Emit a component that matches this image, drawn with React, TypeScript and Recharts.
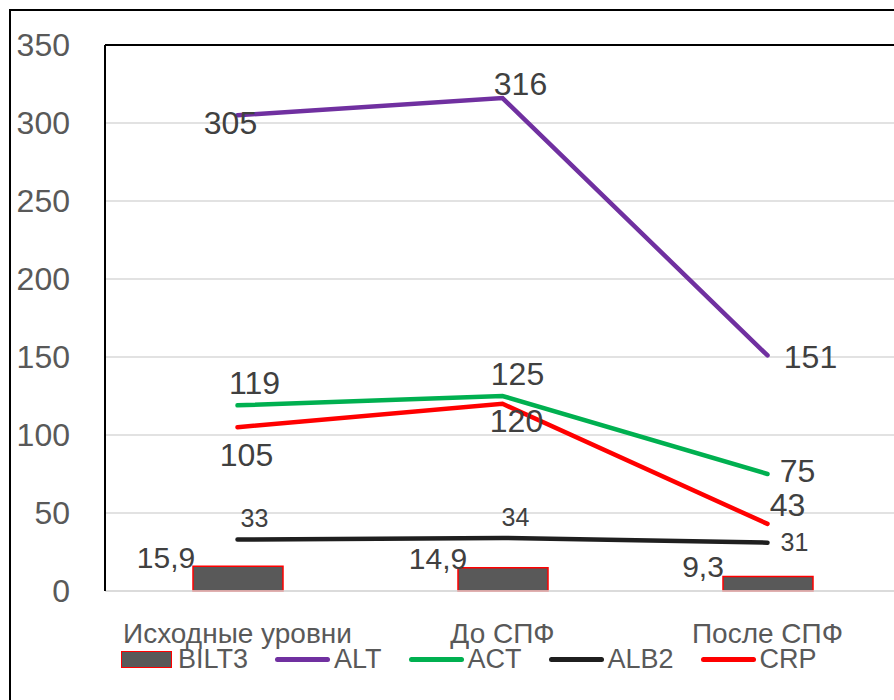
import { ComposedChart, Bar, Line, XAxis, YAxis, CartesianGrid, ReferenceLine } from 'recharts';

const categories = ['Исходные уровни', 'До СПФ', 'После СПФ'];
const bilt3 = [15.9, 14.9, 9.3];
const alt = [305, 316, 151];
const act = [119, 125, 75];
const alb2 = [33, 34, 31];
const crp = [105, 120, 43];
const yTicks = [0, 50, 100, 150, 200, 250, 300, 350];

const data = categories.map((name, i) => ({
  name,
  BILT3: bilt3[i],
  ALT: alt[i],
  ACT: act[i],
  ALB2: alb2[i],
  CRP: crp[i],
}));

const FONT = "'Liberation Sans', Arial, sans-serif";
const LABEL_COLOR = '#404040';
const AXIS_COLOR = '#595959';
const GRID = '#D9D9D9';

// label offsets (centre of text relative to the point)
const lineSeries = [
  { key: 'ALT', color: '#7030A0', size: 32, offsets: [[-7, 7], [18, -15], [43, 1]] },
  { key: 'ACT', color: '#00B050', size: 32, offsets: [[17, -23], [15, -23], [30, -4]] },
  { key: 'ALB2', color: '#1F1F1F', size: 25, offsets: [[17, -22], [13, -21], [27, -1]] },
  { key: 'CRP', color: '#FF0000', size: 32, offsets: [[9, 27], [14, 17], [20, -19]] },
];
const barOffsets = [[-72, -9], [-65, -10], [-65, -10]];

const fmt = (v: number) => String(v).replace('.', ',');

const lineLabel = (offsets: number[][], size: number) => (props: any) => {
  const vb = props.viewBox || {};
  const x = props.x ?? vb.x;
  const y = props.y ?? vb.y;
  const [dx, dy] = offsets[props.index] || [0, 0];
  return (
    <text x={x + dx} y={y + dy + size * 0.36} textAnchor="middle" fontSize={size} fill={LABEL_COLOR} fontFamily={FONT}>
      {fmt(props.value)}
    </text>
  );
};

const barLabel = (props: any) => {
  const vb = props.viewBox || {};
  const x = vb.x ?? props.x;
  const y = vb.y ?? props.y;
  const w = vb.width ?? props.width;
  const [dx, dy] = barOffsets[props.index] || [0, 0];
  return (
    <text x={x + w / 2 + dx} y={y + dy + 30 * 0.36} textAnchor="middle" fontSize={30} fill={LABEL_COLOR} fontFamily={FONT}>
      {fmt(props.value)}
    </text>
  );
};

function LegendRow() {
  return (
    <div
      style={{
        position: 'absolute',
        left: 121,
        top: 645,
        display: 'flex',
        alignItems: 'center',
        gap: 27,
        fontFamily: FONT,
        fontSize: 27,
        color: AXIS_COLOR,
        lineHeight: '28px',
      }}
    >
      <div style={{ display: 'flex', alignItems: 'center' }}>
        <div style={{ width: 49, height: 15, background: '#595959', border: '1.5px solid #FF0000', marginRight: 6 }} />
        <span>BILT3</span>
      </div>
      {lineSeries.map((s) => (
        <div key={s.key} style={{ display: 'flex', alignItems: 'center' }}>
          <div style={{ width: 55, height: 5, borderRadius: 3, background: s.color, marginRight: 4 }} />
          <span>{s.key}</span>
        </div>
      ))}
    </div>
  );
}

export default function App() {
  return (
    <div style={{ position: 'absolute', left: 0, top: 0, width: 894, height: 700, overflow: 'hidden', background: '#fff' }}>
      <div style={{ position: 'absolute', left: 9, top: 9, width: 1000, height: 1000, border: '2px solid #000' }} />
      <div style={{ position: 'absolute', left: 0, top: 0 }}>
        <ComposedChart width={920} height={700} data={data} margin={{ top: 45, right: 20, left: 0, bottom: 0 }}>
          <CartesianGrid vertical={false} stroke={GRID} strokeWidth={1.5} />
          <XAxis
            dataKey="name"
            height={109}
            axisLine={{ stroke: GRID, strokeWidth: 1.5 }}
            tickLine={false}
            tickSize={0}
            tickMargin={32}
            tick={{ fill: AXIS_COLOR, fontSize: 28, fontFamily: FONT }}
            interval={0}
          />
          <YAxis
            width={105}
            domain={[0, 350]}
            ticks={yTicks}
            axisLine={{ stroke: '#000', strokeWidth: 2 }}
            tickLine={false}
            tickSize={0}
            tickMargin={35}
            tick={{ fill: AXIS_COLOR, fontSize: 32, fontFamily: FONT }}
          />
          <ReferenceLine y={350} stroke="#000" strokeWidth={2} />
          <Bar dataKey="BILT3" barSize={90} fill="#595959" stroke="#FF0000" strokeWidth={1.5} isAnimationActive={false} label={barLabel} />
          {lineSeries.map((s) => (
            <Line
              key={s.key}
              type="linear"
              dataKey={s.key}
              stroke={s.color}
              strokeWidth={4.5}
              strokeLinecap="round"
              dot={false}
              activeDot={false}
              isAnimationActive={false}
              label={lineLabel(s.offsets, s.size)}
            />
          ))}
        </ComposedChart>
      </div>
      <LegendRow />
    </div>
  );
}
